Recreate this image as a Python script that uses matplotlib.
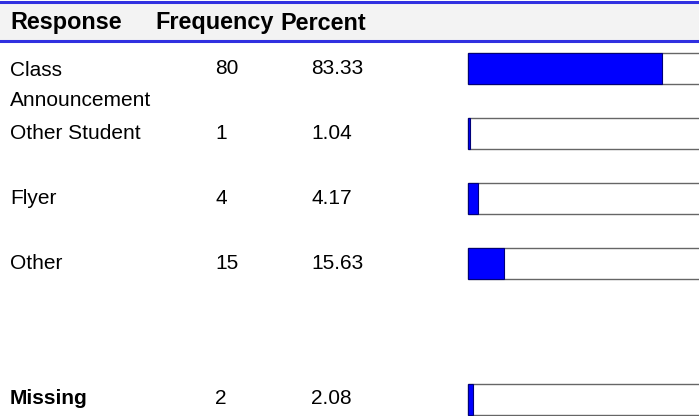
import matplotlib.pyplot as plt
from matplotlib.patches import Rectangle
from matplotlib import font_manager
from matplotlib.font_manager import FontProperties

# Table contents
headers = ["Response", "Frequency", "Percent"]
responses = ["Class\nAnnouncement", "Other Student", "Flyer", "Other"]
frequency = [80, 1, 4, 15]
percent = [83.33, 1.04, 4.17, 15.63]
missing_label = "Missing"
missing_freq = 2
missing_pct = 2.08

# Layout in pixels (figure is 699 x 416)
W, H = 699, 416
COL_X = [10, 215, 311]
HEAD_X = [10, 155, 280]
ROW_Y = [68.5, 133.5, 198.5, 263.5]
MISSING_Y = 399
BAR_LEFT, BAR_FULL, BAR_H = 468, 233, 31
NARROW_FS = 18
PLAIN_FS = 15
HEAD_FS = 16.8
LINE_GAP = 29.5  # px between the two lines of a wrapped label


def _weight(f):
    w = f.weight
    if isinstance(w, str):
        return 700 if 'bold' in w.lower() else 400
    return int(w)


# Arial Narrow look-alike if there is one, else plain Liberation Sans
narrow = [f for f in font_manager.fontManager.ttflist
          if 'liberation' in f.name.lower() and 'narrow' in f.name.lower()]
reg = [f for f in narrow if _weight(f) < 600 and f.style == 'normal']
bld = [f for f in narrow if _weight(f) >= 600 and f.style == 'normal']

if reg:
    body = FontProperties(fname=reg[0].fname, size=NARROW_FS)
else:
    body = FontProperties(family='Liberation Sans', size=PLAIN_FS)
if bld:
    body_bold = FontProperties(fname=bld[0].fname, size=NARROW_FS)
else:
    body_bold = FontProperties(family='Liberation Sans', weight='bold', size=PLAIN_FS)

plt.rcParams['font.family'] = ['Liberation Sans', 'DejaVu Sans']

fig = plt.figure(figsize=(W / 100, H / 100), dpi=100)
ax = fig.add_axes([0, 0, 1, 1])
ax.set_xlim(0, W)
ax.set_ylim(H, 0)
ax.axis('off')

# header band
ax.add_patch(Rectangle((0, 2), W, 38, facecolor='#f3f3f3', edgecolor='none'))
ax.axhline(1.5, color='#3030e0', lw=2.2)
ax.axhline(40.5, color='#3030e0', lw=2.2)
for x, h in zip(HEAD_X, headers):
    ax.text(x, 23, h, fontsize=HEAD_FS, fontweight='bold', va='center', ha='left')


def draw_row(y, label, freq, pct, bold=False):
    fp = body_bold if bold else body
    if '\n' in label:
        # matplotlib's line unit is roughly 0.81 em for this font
        ls = LINE_GAP / (0.81 * fp.get_size_in_points() * 100 / 72)
        ax.text(COL_X[0], y - 8, label, va='top', ha='left', linespacing=ls,
                fontproperties=fp)
    else:
        ax.text(COL_X[0], y, label, va='center', ha='left', fontproperties=fp)
    ax.text(COL_X[1], y, str(freq), va='center', ha='left', fontproperties=body)
    ax.text(COL_X[2], y, f"{pct:.2f}", va='center', ha='left', fontproperties=body)
    # empty track, then filled part
    ax.barh(y, BAR_FULL, left=BAR_LEFT, height=BAR_H, color='white',
            edgecolor='#666666', linewidth=1.0)
    ax.barh(y, pct / 100 * BAR_FULL, left=BAR_LEFT, height=BAR_H,
            color='#0000ff', edgecolor='#00007a', linewidth=0.8)


for y, lab, f, p in zip(ROW_Y, responses, frequency, percent):
    draw_row(y, lab, f, p)
draw_row(MISSING_Y, missing_label, missing_freq, missing_pct, bold=True)

fig.savefig('out.png', dpi=100)
